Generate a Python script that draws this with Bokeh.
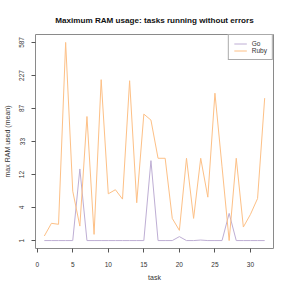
import numpy as np
from bokeh.plotting import figure
from bokeh.models import FixedTicker, Legend, LegendItem, Range1d
from bokeh.embed import file_html
from bokeh.resources import INLINE

tasks = list(range(1, 33))
go_ram = [1, 1, 1, 1, 1, 14.6, 1, 1, 1, 1, 1, 1, 1, 1, 1, 18.8, 1, 1, 1, 1.24,
          1, 1, 1.03, 1, 1, 1, 3.36, 1, 1, 1, 1, 1]
ruby_ram = [1.28, 2.28, 2.19, 587, 7.25, 2.03, 69.2, 1.39, 201, 6.65, 7.6, 5.57,
            195, 4.92, 74.2, 62.4, 20.2, 20.2, 2.78, 1.68, 20.2, 2.78, 20.2, 5.95,
            136, 15.6, 1, 20.2, 1.95, 3.24, 5.69, 118]
y_tick_labels = [1, 4, 12, 33, 87, 227, 587]
x_ticks = [0, 5, 10, 15, 20, 25, 30]

go_t = np.log1p(go_ram)
ruby_t = np.log1p(ruby_ram)
all_t = np.concatenate([go_t, ruby_t])
tmin, tmax = all_t.min(), all_t.max()
y_ticks = [float(v) for v in np.linspace(tmin, tmax, len(y_tick_labels))]
pad_y = 0.04 * (tmax - tmin)
pad_x = 0.04 * (max(tasks) - min(tasks))

FONT = "Liberation Sans"

p = figure(width=291, height=291, output_backend="svg", toolbar_location=None,
           x_range=Range1d(min(tasks) - pad_x, max(tasks) + pad_x),
           y_range=Range1d(tmin - pad_y, tmax + pad_y),
           min_border_left=33, min_border_right=18, min_border_top=34,
           min_border_bottom=43)
p.background_fill_color = "white"
p.border_fill_color = "white"
p.outline_line_color = "#8a8a8a"
p.outline_line_width = 1
p.grid.visible = False

p.title.text = "Maximum RAM usage: tasks running without errors"
p.title.align = "center"
p.title.text_font = FONT
p.title.text_font_style = "bold"
p.title.text_font_size = "8.1px"
p.title.text_color = "#111111"
p.title.standoff = 19

r_go = p.line(tasks, go_t, line_color="#BEAED4", line_width=1.0)
r_ruby = p.line(tasks, ruby_t, line_color="#FDC086", line_width=1.0)

for ax in (p.xaxis[0], p.yaxis[0]):
    ax.axis_line_color = None
    ax.major_tick_line_color = "#555555"
    ax.major_tick_in = 0
    ax.major_tick_out = 4
    ax.minor_tick_line_color = None
    ax.major_label_text_font = FONT
    ax.major_label_text_font_size = "6.5px"
    ax.major_label_text_color = "#333333"
    ax.axis_label_text_font = FONT
    ax.axis_label_text_font_size = "7px"
    ax.axis_label_text_font_style = "normal"
    ax.axis_label_text_color = "#333333"

p.xaxis.ticker = FixedTicker(ticks=x_ticks)
p.xaxis.axis_label = "task"
p.xaxis.major_label_standoff = 9
p.xaxis.axis_label_standoff = 4

p.yaxis.ticker = FixedTicker(ticks=y_ticks)
p.yaxis.major_label_overrides = {t: str(l) for t, l in zip(y_ticks, y_tick_labels)}
p.yaxis.major_label_orientation = "vertical"
p.yaxis.axis_label = "max RAM used (mean)"
p.yaxis.major_label_standoff = 7
p.yaxis.axis_label_standoff = 6

legend = Legend(items=[LegendItem(label="Go", renderers=[r_go]),
                       LegendItem(label="Ruby", renderers=[r_ruby])],
                location="top_right", margin=0, padding=5, spacing=0,
                label_height=7, label_width=14, glyph_height=7, glyph_width=13,
                label_standoff=5,
                label_text_font=FONT, label_text_font_size="6.5px",
                label_text_color="#333333", border_line_color="#555555",
                border_line_width=1, background_fill_alpha=1)
p.add_layout(legend)

open("out.html", "w").write(file_html(p, INLINE))
